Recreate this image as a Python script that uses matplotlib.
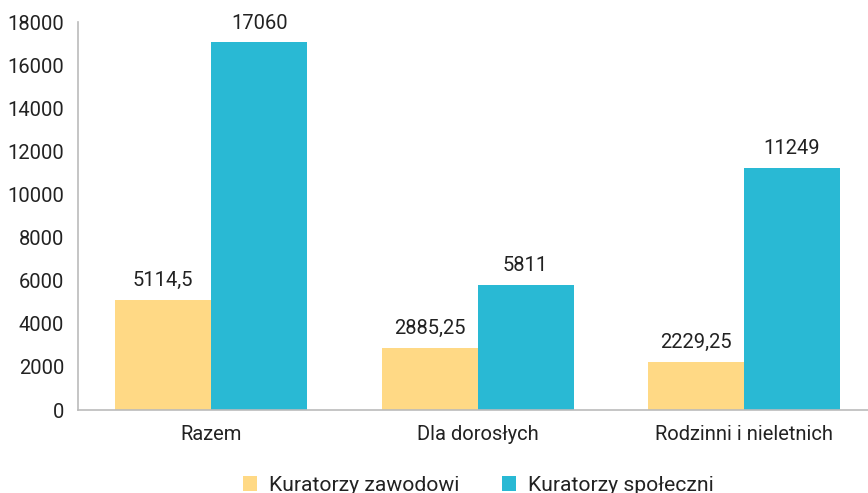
import numpy as np
import matplotlib
matplotlib.use("Agg")
import matplotlib.pyplot as plt

plt.rcParams["font.family"] = ["Roboto", "DejaVu Sans"]

categories = ["Razem", "Dla dorosłych", "Rodzinni i nieletnich"]
series_names = ["Kuratorzy zawodowi", "Kuratorzy społeczni"]
zawodowi = [5114.5, 2885.25, 2229.25]
spoleczni = [17060, 5811, 11249]
zawodowi_labels = ["5114,5", "2885,25", "2229,25"]
spoleczni_labels = ["17060", "5811", "11249"]
colors = ["#FFD985", "#29B9D4"]
FS = 14.5

fig = plt.figure(figsize=(8.68, 4.93), dpi=100)
ax = fig.add_axes([78 / 868, 83 / 493, 790 / 868, 388 / 493])

x = np.arange(len(categories))
w = 0.36
b1 = ax.bar(x - w / 2, zawodowi, w, color=colors[0], label=series_names[0])
b2 = ax.bar(x + w / 2, spoleczni, w, color=colors[1], label=series_names[1])

for bars, labels in ((b1, zawodowi_labels), (b2, spoleczni_labels)):
    for rect, lab in zip(bars, labels):
        ax.annotate(lab, (rect.get_x() + rect.get_width() / 2, rect.get_height()),
                    xytext=(0, 7), textcoords="offset points",
                    ha="center", va="bottom", fontsize=FS, color="#222222")

ax.set_xlim(-0.5, 2.465)
ax.set_ylim(0, 18000)
ax.set_yticks(range(0, 18001, 2000))
ax.set_xticks(x)
ax.set_xticklabels(categories)
ax.tick_params(length=0, labelsize=FS, colors="#222222")
ax.tick_params(axis="y", pad=10)
ax.tick_params(axis="x", pad=11)
for s in ("top", "right"):
    ax.spines[s].set_visible(False)
for s in ("left", "bottom"):
    ax.spines[s].set_color("#BBBBBB")
    ax.spines[s].set_linewidth(1.2)

fig.legend(handles=[b1, b2], loc="lower center", bbox_to_anchor=(0.551, -0.042),
           ncol=2, frameon=False, fontsize=15.2, handlelength=0.7, handleheight=0.7,
           columnspacing=2.0, handletextpad=0.55, labelcolor="#222222")

fig.savefig("out.png", dpi=100)
